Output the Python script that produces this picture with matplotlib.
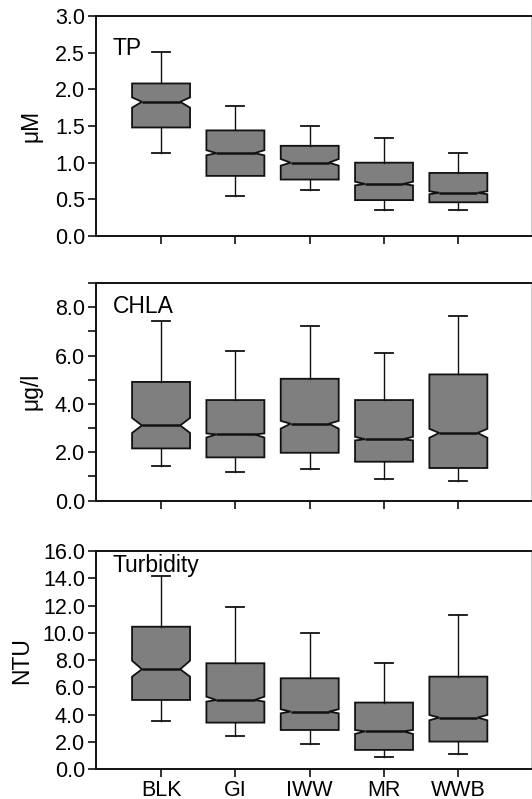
import matplotlib.pyplot as plt
from matplotlib.ticker import MultipleLocator, FormatStrFormatter
import numpy as np

plt.rcParams['font.family'] = ['Liberation Sans', 'DejaVu Sans']

sites = ["BLK", "GI", "IWW", "MR", "WWB"]

# TP (uM)
tp_whislo = [1.13, 0.55, 0.63, 0.36, 0.35]
tp_q1 = [1.48, 0.82, 0.77, 0.49, 0.46]
tp_cilo = [1.75, 1.10, 0.96, 0.69, 0.57]
tp_med = [1.83, 1.13, 1.00, 0.71, 0.59]
tp_cihi = [1.89, 1.17, 1.05, 0.74, 0.61]
tp_q3 = [2.08, 1.44, 1.23, 1.00, 0.86]
tp_whishi = [2.51, 1.77, 1.50, 1.34, 1.13]

# CHLA (ug/l)
chla_whislo = [1.42, 1.18, 1.29, 0.91, 0.81]
chla_q1 = [2.16, 1.79, 1.98, 1.61, 1.35]
chla_cilo = [2.80, 2.61, 2.98, 2.49, 2.60]
chla_med = [3.11, 2.74, 3.18, 2.54, 2.80]
chla_cihi = [3.42, 2.78, 3.30, 2.64, 2.97]
chla_q3 = [4.91, 4.16, 5.04, 4.16, 5.22]
chla_whishi = [7.42, 6.19, 7.23, 6.10, 7.62]

# Turbidity (NTU)
tur_whislo = [3.54, 2.44, 1.86, 0.88, 1.10]
tur_q1 = [5.08, 3.42, 2.88, 1.42, 2.03]
tur_cilo = [6.79, 4.96, 4.10, 2.59, 3.59]
tur_med = [7.33, 5.08, 4.23, 2.78, 3.79]
tur_cihi = [7.96, 5.32, 4.40, 2.88, 3.98]
tur_q3 = [10.45, 7.77, 6.67, 4.89, 6.79]
tur_whishi = [14.19, 11.87, 9.99, 7.77, 11.31]


def make_stats(lo, q1, cilo, med, cihi, q3, hi):
    return [dict(whislo=a, q1=b, cilo=c, med=d, cihi=e, q3=f, whishi=g, fliers=[])
            for a, b, c, d, e, f, g in zip(lo, q1, cilo, med, cihi, q3, hi)]


# stats, name, unit, ymax, major step, minor step, text y, unit right edge px
panels = [
    (make_stats(tp_whislo, tp_q1, tp_cilo, tp_med, tp_cihi, tp_q3, tp_whishi),
     "TP", "μM", 3.0, 0.5, None, 0.823, 43),
    (make_stats(chla_whislo, chla_q1, chla_cilo, chla_med, chla_cihi, chla_q3, chla_whishi),
     "CHLA", "μg/l", 9.0, 2.0, 1.0, 0.861, 43),
    (make_stats(tur_whislo, tur_q1, tur_cilo, tur_med, tur_cihi, tur_q3, tur_whishi),
     "Turbidity", "NTU", 16.0, 2.0, None, 0.905, 33),
]

# axes rectangles (left, bottom, width, height) in figure fraction
rects = [(0.1805, 0.7046, 0.818, 0.2754),
         (0.1805, 0.3734, 0.818, 0.2724),
         (0.1805, 0.0372, 0.818, 0.2732)]

fig = plt.figure(figsize=(5.32, 7.99), dpi=100)
pos = np.arange(1, len(sites) + 1)
width = 0.78
waist = 0.66

for (stats, name, unit, ymax, major, minor, ty, ux), r in zip(panels, rects):
    ax = fig.add_axes(r)
    bp = ax.bxp(stats, positions=pos, widths=width, capwidths=0.24, shownotches=True,
                patch_artist=True, showfliers=False,
                boxprops=dict(facecolor='#7f7f7f', edgecolor='#111111', linewidth=1.3),
                whiskerprops=dict(color='#111111', linewidth=1.0),
                capprops=dict(color='#111111', linewidth=1.3),
                medianprops=dict(color='#111111', linewidth=1.8))
    # narrower waist of the notch than matplotlib's default
    for p, box, medl in zip(pos, bp['boxes'], bp['medians']):
        v = box.get_path().vertices
        v[3, 0] = p + width * waist / 2
        v[8, 0] = p - width * waist / 2
        medl.set_xdata([p - width * waist / 2, p + width * waist / 2])

    ax.set_xlim(0.125, 5.98)
    ax.set_ylim(0, ymax)
    ax.yaxis.set_major_locator(MultipleLocator(major))
    ax.yaxis.set_major_formatter(FormatStrFormatter('%.1f'))
    if minor:
        ax.yaxis.set_minor_locator(MultipleLocator(minor))
        ax.tick_params(axis='y', which='minor', length=6, width=1.2, color='#111111')
    ax.set_xticks(pos)
    if name == "Turbidity":
        ax.set_xticklabels(sites)
    else:
        ax.set_xticklabels([])
    ax.tick_params(axis='both', which='major', direction='out', length=6, width=1.2,
                   color='#111111', labelsize=15.5, pad=2)
    for s in ['left', 'bottom', 'top']:
        ax.spines[s].set_linewidth(1.4)
        ax.spines[s].set_color('#111111')
    ax.spines['right'].set_color('#cccccc')
    ax.spines['right'].set_linewidth(0.8)

    ax.text(0.039, ty, name, transform=ax.transAxes, fontsize=16.5, va='baseline')
    ax.set_ylabel(unit, fontsize=16.5)
    ax.yaxis.set_label_coords((ux - r[0] * 532) / (r[2] * 532), 0.5)

fig.savefig("out.png", dpi=100)
